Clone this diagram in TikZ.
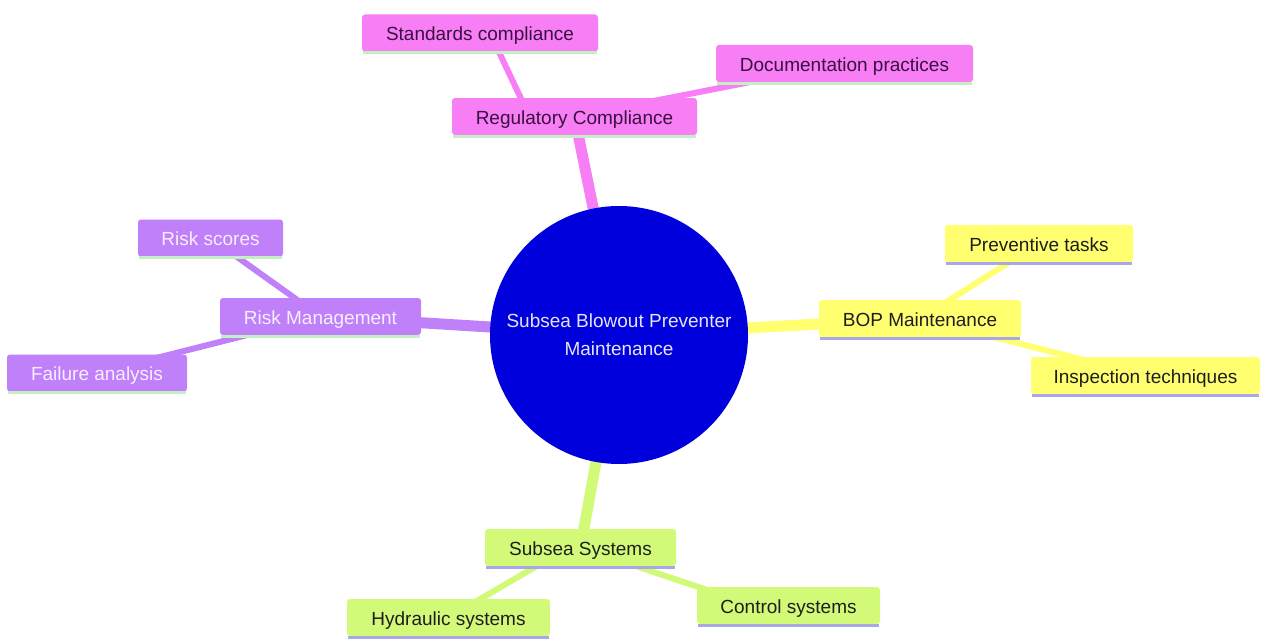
\documentclass[tikz,border=0pt]{standalone}
\usepackage{fontspec}
\setmainfont{Liberation Sans}
\usetikzlibrary{backgrounds}
\definecolor{pinkF}{HTML}{F77EF5}
\definecolor{pinkT}{HTML}{3A1040}
\definecolor{purpF}{HTML}{BF80FA}
\definecolor{purpT}{HTML}{F8EEFF}
\definecolor{yellF}{HTML}{FFFF70}
\definecolor{greenF}{HTML}{D2FA78}
\definecolor{darkT}{HTML}{1E1E1E}
\definecolor{mintL}{HTML}{C4EEC4}
\definecolor{lavL}{HTML}{A8A8E6}
\definecolor{coreF}{HTML}{0000DC}
\definecolor{coreT}{HTML}{E4E4F4}
\tikzset{
  box/.style={rounded corners=3pt, inner sep=0pt, minimum height=37pt,
    text height=17pt, text depth=2pt,
    font=\fontsize{19}{22}\selectfont},
  pinkbox/.style={box, fill=pinkF, text=pinkT},
  purpbox/.style={box, fill=purpF, text=purpT},
  yellbox/.style={box, fill=yellF, text=darkT},
  greenbox/.style={box, fill=greenF, text=darkT},
  core/.style={circle, fill=coreF, text=coreT, minimum size=258pt, inner sep=0pt,
    align=center, font=\fontsize{19}{28}\selectfont},
  mainedge/.style={line width=11pt},
  subedge/.style={line width=6pt},
  baseline/.style={line width=3pt}
}
\begin{document}
\begin{tikzpicture}[x=1pt,y=-1pt]
\useasboundingbox (0,0) rectangle (1261,642);
% central node
\node[core] (c) at (619,335) {Subsea Blowout Preventer\\Maintenance};
% pink branch
\node[pinkbox, minimum width=236pt] (std) at (480,33) {Standards compliance};
\node[pinkbox, minimum width=257pt] (doc) at (844.5,63.5) {Documentation practices};
\node[pinkbox, minimum width=245pt] (reg) at (574.5,116.5) {Regulatory Compliance};
% purple branch
\node[purpbox, minimum width=145pt] (rs) at (210.5,238) {Risk scores};
\node[purpbox, minimum width=201pt] (rm) at (320.5,316.5) {Risk Management};
\node[purpbox, minimum width=180pt] (fa) at (97,373) {Failure analysis};
% yellow branch
\node[yellbox, minimum width=188pt] (pt) at (1039,243.5) {Preventive tasks};
\node[yellbox, minimum width=202pt] (bop) at (920,318.5) {BOP Maintenance};
\node[yellbox, minimum width=229pt] (it) at (1145.5,375.5) {Inspection techniques};
% green branch
\node[greenbox, minimum width=191pt] (ss) at (580.5,547.5) {Subsea Systems};
\node[greenbox, minimum width=203pt] (hs) at (448.5,617.5) {Hydraulic systems};
\node[greenbox, minimum width=183pt] (cs) at (788.5,605.5) {Control systems};
% bottom lines
\foreach \n in {std,doc,reg,rs,rm,fa}
  \draw[baseline, mintL] ([xshift=1pt,yshift=-1pt]\n.south west) -- ([xshift=-1pt,yshift=-1pt]\n.south east);
\foreach \n in {pt,bop,it,ss,hs,cs}
  \draw[baseline, lavL] ([xshift=1pt,yshift=-1pt]\n.south west) -- ([xshift=-1pt,yshift=-1pt]\n.south east);
% edges
\begin{pgfonlayer}{background}
\fill[white] (0,0) rectangle (1261,642);
\draw[mainedge, pinkF] (c.center) -- (reg.center);
\draw[subedge, pinkF] ([xshift=-45pt]reg.center) -- ([xshift=10pt]std.center);
\draw[subedge, pinkF] (reg.center) -- (doc.center);
\draw[mainedge, purpF] (c.center) -- (rm.center);
\draw[subedge, purpF] (rm.center) -- (rs.center);
\draw[subedge, purpF] (rm.center) -- (fa.center);
\draw[mainedge, yellF] (c.center) -- (bop.center);
\draw[subedge, yellF] (bop.center) -- (pt.center);
\draw[subedge, yellF] (bop.center) -- (it.center);
\draw[mainedge, greenF] (c.center) -- (ss.center);
\draw[subedge, greenF] ([xshift=-12pt]ss.center) -- (hs.center);
\draw[subedge, greenF] (ss.center) -- ([xshift=-35pt]cs.center);
\end{pgfonlayer}
\end{tikzpicture}
\end{document}
